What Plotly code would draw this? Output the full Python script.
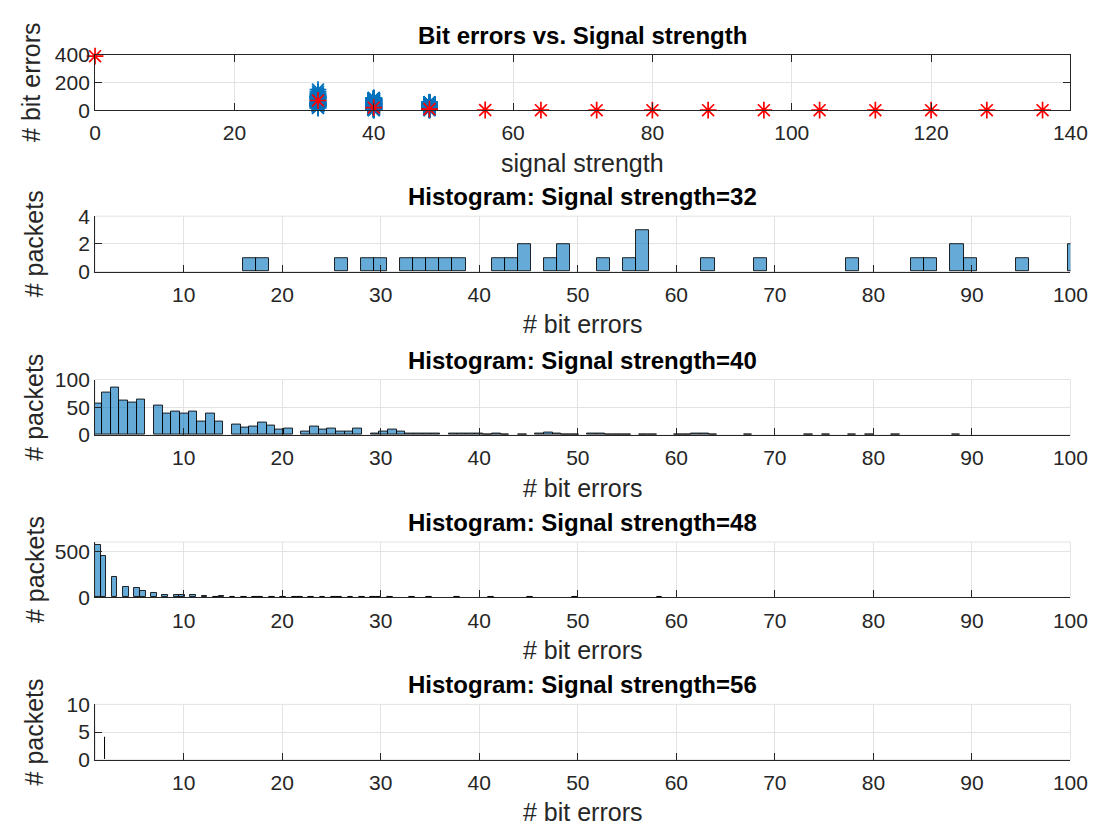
import plotly.graph_objects as go

W, H = 1108, 834

# ---------------- data ----------------
signal_strength = [0, 32, 40, 48, 56, 64, 72, 80, 88, 96, 104, 112, 120, 128, 136]
mean_bit_errors = [390, 70, 18, 8, 1.4, 0, 0, 0, 0, 0, 0, 0, 0, 0, 0]

# signal strength 32: bit-error values and number of packets with that value
err32 = [16, 18, 26, 29, 30, 33, 34, 35, 37, 38, 42, 43, 44, 45, 47, 48, 49, 53, 55, 56, 57,
         63, 69, 78, 84, 86, 88, 89, 90, 95, 100, 101, 104, 112, 120, 133, 149]
pk32 = [1, 1, 1, 1, 1, 1, 1, 1, 1, 1, 1, 1, 1, 1, 1, 1, 1, 1, 1, 2, 1,
        1, 1, 1, 1, 1, 1, 1, 1, 1, 1, 1, 1, 1, 1, 1, 1]

# signal strength 40
err40 = list(range(1, 89))
pk40 = [57, 76, 86, 62, 58, 64, 53, 38, 42, 38,
        43, 25, 39, 24, 18, 14, 16, 22, 17, 10,
        12, 7, 15, 9, 12, 6, 6, 11, 2, 7,
        9, 6, 3, 3, 3, 2, 2, 3, 3, 3,
        1, 2, 1, 1, 0, 2, 4, 2, 1, 1,
        2, 3, 1, 1, 1, 0, 1, 1, 0, 1,
        1, 2, 2, 1, 0, 0, 1, 0, 0, 0,
        0, 0, 1, 0, 1, 0, 0, 1, 0, 1,
        0, 1, 0, 0, 0, 0, 0, 1]

# signal strength 48
err48 = list(range(1, 59))
pk48 = [565, 451, 225, 114, 104, 69, 52, 28, 28, 28,
        22, 14, 10, 12, 6, 5, 4, 4, 3, 3,
        2, 2, 1, 2, 1, 1, 2, 1, 1, 1,
        1, 0, 1, 0, 1, 0, 0, 1, 0, 0,
        1, 0, 0, 0, 1, 0, 0, 0, 0, 1,
        0, 0, 0, 0, 0, 0, 0, 1]

# signal strength 56
err56 = [1, 2]
pk56 = [6, 4]

# histogram bins (start, end, size) -> 100 bins over data range
bins32 = (16, 149.5, 1.33)
bins40 = (0.82, 88.9, 0.88)
bins48 = (1, 58.6, 0.57)
bins56 = (1, 2.02, 0.01)

hist_titles = ["Histogram: Signal strength=32", "Histogram: Signal strength=40",
               "Histogram: Signal strength=48", "Histogram: Signal strength=56"]
hist_yranges = [[0, 4], [0, 100], [0, 600], [0, 10]]
hist_yticks = [[0, 2, 4], [0, 50, 100], [0, 500], [0, 5, 10]]
hist_xticks = [10, 20, 30, 40, 50, 60, 70, 80, 90, 100]
top_xticks = [0, 20, 40, 60, 80, 100, 120, 140]
top_yticks = [0, 200, 400]

# ---------------- style ----------------
BLUE = "#0072BD"
RED = "#FF0000"
AX = "#262626"
GRID = "#e3e3e3"
FACE = "rgba(0,114,189,0.6)"
FONT = "Liberation Sans, Arial, Helvetica, sans-serif"
TICK_SIZE = 21
LABEL_SIZE = 25
TITLE_SIZE = 24

# panel pixel geometry (top, bottom)
panels = [(44, 101), (210, 267), (378, 435), (545, 602), (712, 769)]
ylabel_x = [25, 29, 29, 29, 29]
XL, XR = 91, 1088

def ydom(t, b):
    return [1 - b / H, 1 - t / H]

xdom = [XL / W, XR / W]

fig = go.Figure()

# top panel: individual packets (blue) and means (red)
bx, by = [], []
for s, errs in [(32, err32), (40, err40), (48, err48)]:
    for e in errs:
        bx.append(s)
        by.append(e)
fig.add_trace(go.Scatter(x=bx, y=by, mode="markers", xaxis="x", yaxis="y",
                         marker=dict(symbol="asterisk-open", size=14, color=BLUE,
                                     line=dict(color=BLUE, width=1.7)),
                         showlegend=False, cliponaxis=False))
fig.add_trace(go.Scatter(x=signal_strength, y=mean_bit_errors, mode="markers", xaxis="x", yaxis="y",
                         marker=dict(symbol="asterisk-open", size=14, color=RED,
                                     line=dict(color=RED, width=1.7)),
                         showlegend=False, cliponaxis=False))

hist_data = [(err32, pk32, bins32), (err40, pk40, bins40), (err48, pk48, bins48), (err56, pk56, bins56)]
for i, (errs, pks, (b0, b1, bs)) in enumerate(hist_data):
    n = i + 2
    fig.add_trace(go.Histogram(x=errs, y=pks, histfunc="sum",
                               xbins=dict(start=b0, end=b1, size=bs),
                               xaxis=f"x{n}", yaxis=f"y{n}",
                               marker=dict(color=FACE, line=dict(color="rgba(0,0,0,0.85)", width=1)),
                               showlegend=False))

layout = dict(
    width=W, height=H, margin=dict(l=0, r=0, t=0, b=0),
    paper_bgcolor="white", plot_bgcolor="white",
    bargap=0, font=dict(family=FONT, color=AX, size=TICK_SIZE),
    showlegend=False,
)

common = dict(showline=True, linecolor=AX, linewidth=1, ticks="inside", ticklen=7, tickcolor=AX,
              showgrid=True, gridcolor=GRID, zeroline=False, tickfont=dict(size=TICK_SIZE, color=AX))

# top axes
layout["xaxis"] = dict(domain=xdom, anchor="y", range=[0, 140], tickvals=top_xticks,
                       mirror="ticks", ticklabelstandoff=4, **common)
layout["yaxis"] = dict(domain=ydom(*panels[0]), anchor="x", range=[0, 400], tickvals=top_yticks,
                       mirror="ticks", **common)

shapes = []
for i in range(4):
    n = i + 2
    layout[f"xaxis{n}"] = dict(domain=xdom, anchor=f"y{n}", range=[1, 100], tickvals=hist_xticks,
                               mirror=False, ticklabelstandoff=4, **common)
    layout[f"yaxis{n}"] = dict(domain=ydom(*panels[n - 1]), anchor=f"x{n}", range=hist_yranges[i],
                               tickvals=hist_yticks[i], mirror=False, **common)
    shapes.append(dict(type="rect", xref=f"x{n} domain", yref=f"y{n} domain", x0=0, x1=1, y0=0, y1=1,
                       line=dict(color=GRID, width=1), layer="below"))

annotations = []
titles = ["Bit errors vs. Signal strength"] + hist_titles
xlabels = ["signal strength"] + ["# bit errors"] * 4
ylabels = ["# bit errors"] + ["# packets"] * 4
xc = (XL + XR) / 2 / W
for i, (t, b) in enumerate(panels):
    annotations.append(dict(text=f"<b>{titles[i]}</b>", x=xc, y=1 - (t - 20) / H, xref="paper", yref="paper",
                            xanchor="center", yanchor="middle", showarrow=False,
                            font=dict(size=TITLE_SIZE, color="black", family=FONT)))
    annotations.append(dict(text=xlabels[i], x=xc, y=1 - (b + 54) / H, xref="paper", yref="paper",
                            xanchor="center", yanchor="middle", showarrow=False,
                            font=dict(size=LABEL_SIZE, color=AX, family=FONT)))
    annotations.append(dict(text=ylabels[i], x=ylabel_x[i] / W, y=1 - (t + b) / 2 / H, xref="paper",
                            yref="paper", xanchor="center", yanchor="middle", showarrow=False,
                            textangle=-90, font=dict(size=LABEL_SIZE, color=AX, family=FONT)))

layout["shapes"] = shapes
layout["annotations"] = annotations
fig.update_layout(**layout)
fig.write_html("out.html", config={"displayModeBar": False},
               post_script="document.body.style.margin='0';document.body.style.overflow='hidden';")
